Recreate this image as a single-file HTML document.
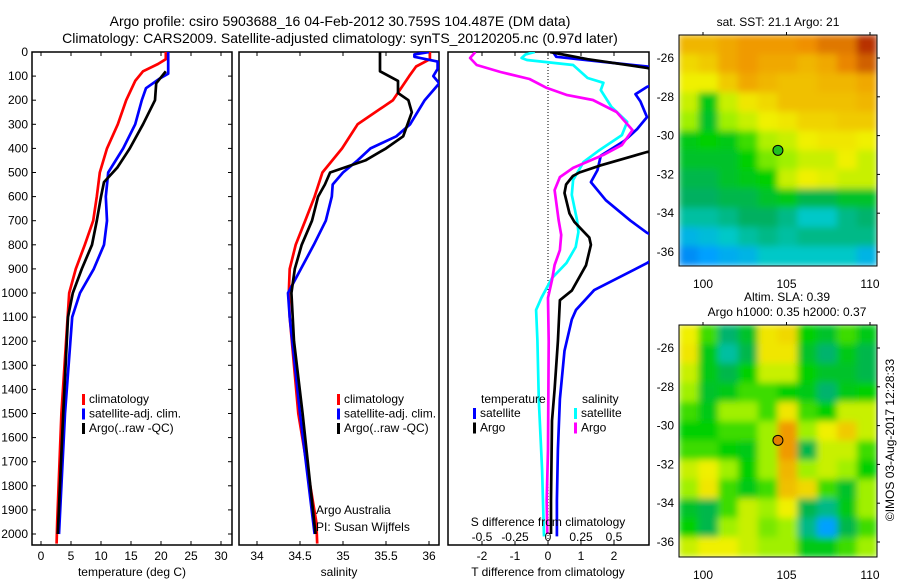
<!DOCTYPE html>
<html><head><meta charset="utf-8"><style>
body{margin:0;background:#fff}
svg{font-family:"Liberation Sans",sans-serif}
</style></head><body>
<svg id="c" width="900" height="580" viewBox="0 0 900 580" xmlns="http://www.w3.org/2000/svg">
<defs>
<filter id="bl" x="0" y="0" width="1" height="1"><feGaussianBlur stdDeviation="3.5" edgeMode="duplicate"/></filter>
<clipPath id="cp1"><rect x="32" y="52" width="200" height="493"/></clipPath>
<clipPath id="cp2"><rect x="239" y="52" width="200" height="493"/></clipPath>
<clipPath id="cp3"><rect x="448" y="52" width="201" height="493"/></clipPath>
<clipPath id="cm1"><rect x="679" y="35" width="198" height="231"/></clipPath>
<clipPath id="cm2"><rect x="679" y="325" width="198" height="232"/></clipPath>
</defs>
<text x="340" y="26" font-size="14" text-anchor="middle">Argo profile: csiro 5903688_16 04-Feb-2012 30.759S 104.487E (DM data)</text>
<text x="340" y="43" font-size="14" text-anchor="middle">Climatology: CARS2009. Satellite-adjusted climatology: synTS_20120205.nc (0.97d later)</text>
<g id="g"></g>
</svg>
<script>
// ---- data ----
const tDepthRed=[0,30,50,80,120,200,300,400,500,600,700,800,900,1000,1500,1950,2040];
const tRed=[20.8,20.8,19.5,17,15.7,14.2,12.8,11,9.8,9.3,8.7,7.3,5.8,4.7,3.4,2.7,2.6];
const tDepthBlue=[0,90,110,150,200,300,400,500,600,700,800,900,1000,1100,1500,2000];
const tBlue=[21.2,21.2,19.8,17.5,16.8,15.7,13.7,11.2,10.8,11,10.5,8.8,6.5,5.2,4,3];
const tDepthBlack=[80,130,200,300,400,480,540,600,700,800,900,1000,1100,1500,2000];
const tBlack=[20.8,19.2,19,17,14.8,12.7,10.5,10,9.3,8.5,6.8,5.3,4.5,3.7,2.8];
const sDepthRed=[0,30,60,100,200,300,400,500,600,700,800,900,1000,1100,1500,1950,2040];
const sRed=[36.01,36.01,35.85,35.77,35.58,35.17,34.99,34.76,34.67,34.56,34.45,34.38,34.37,34.38,34.48,34.69,34.7];
const sDepthBlack=[0,80,120,170,200,250,350,400,450,500,550,600,700,800,900,1000,1200,1500,2000];
const sBlack=[35.43,35.43,35.64,35.64,35.76,35.8,35.7,35.5,35.26,34.85,34.79,34.71,34.64,34.52,34.44,34.4,34.43,34.53,34.68];
const sDepthBlue=[0,10,20,40,70,100,130,200,300,350,400,450,500,550,600,700,800,900,1000,1100,1500,2000];
const sBlue=[36,35.83,35.83,36.1,36.1,36.05,36.12,35.95,35.78,35.62,35.32,35.17,35.0,34.88,34.87,34.8,34.66,34.51,34.36,34.38,34.5,34.67];
const dDepthTsat=[0,20,40,60,80,120,145,175,205,270,320,370,430,490,540,615,700,750,800,876,988,1070,1110,1240,1440,1650,1860,2010];
const dTsat=[0.15,0.25,1.6,3.0,3.8,3.5,3.0,2.65,2.8,3.0,2.7,2.3,1.6,1.5,1.3,1.75,2.5,3.0,3.8,3.0,1.4,0.85,0.72,0.5,0.36,0.3,0.27,0.27];
const dDepthTargo=[0,30,66,100,400,415,470,500,515,550,585,670,705,770,800,885,990,1030,1200,1400,1530,1860,2000];
const dTargo=[0.06,1.2,3.0,4,4,3.0,1.6,0.95,0.75,0.55,0.5,0.65,0.8,1.25,1.3,1.15,0.72,0.36,0.3,0.2,0.12,0.09,0.09];
const dDepthSsat=[0,10,25,33,54,108,128,158,228,290,345,407,456,531,593,697,747,809,875,938,1020,1070,1195,1444,1735,2010];
const dSsat=[-0.1,-0.17,-0.2,-0.16,0.19,0.3,0.42,0.4,0.48,0.6,0.56,0.39,0.27,0.19,0.18,0.22,0.23,0.21,0.14,0.03,-0.05,-0.09,-0.08,-0.07,-0.045,-0.03];
const dDepthSargo=[0,25,54,83,112,149,178,199,249,324,386,427,481,519,573,697,759,822,884,946,1020,1200,1650,1860,2000];
const dSargo=[-0.55,-0.59,-0.54,-0.36,-0.14,-0.01,0.14,0.34,0.52,0.64,0.56,0.42,0.19,0.09,0.05,0.08,0.1,0.09,0.05,0.03,0,0.005,0,-0.01,-0.005];
const depthTicks=[0,100,200,300,400,500,600,700,800,900,1000,1100,1200,1300,1400,1500,1600,1700,1800,1900,2000];
const tempTicks=[0,5,10,15,20,25,30];
const salTicks=[34,34.5,35,35.5,36];
const salTickLabels=["34","34.5","35","35.5","36"];
const dTTicks=[-2,-1,0,1,2];
const dSTicks=[-0.5,-0.25,0,0.25,0.5];
const dSTickLabels=["-0.5","-0.25","0","0.25","0.5"];
const latTicks=[-26,-28,-30,-32,-34,-36];
const lonTicks=[100,105,110];
const argoLon=104.487, argoLat=-30.759;
const sstGrid=[
[.72,.72,.75,.78,.78,.78,.8,.85,.85,.95],
[.65,.68,.75,.78,.75,.75,.72,.75,.82,.9],
[.6,.6,.68,.75,.72,.7,.7,.72,.72,.75],
[.55,.4,.55,.62,.65,.7,.7,.7,.7,.72],
[.5,.38,.5,.55,.6,.62,.66,.66,.68,.68],
[.4,.42,.4,.45,.52,.55,.6,.62,.62,.6],
[.38,.38,.38,.42,.48,.5,.55,.55,.6,.55],
[.35,.35,.38,.4,.42,.55,.6,.58,.55,.55],
[.33,.33,.35,.35,.38,.4,.35,.35,.38,.38],
[.28,.28,.3,.33,.33,.3,.25,.25,.3,.32],
[.2,.22,.25,.28,.3,.28,.3,.3,.3,.3],
[.12,.15,.18,.2,.25,.25,.25,.25,.25,.2]];
const slaGrid=[
[.6,.45,.32,.38,.62,.65,.42,.38,.45,.4],
[.62,.4,.28,.35,.62,.62,.38,.32,.4,.35],
[.55,.4,.35,.42,.55,.55,.42,.38,.38,.35],
[.5,.38,.4,.45,.45,.42,.4,.32,.4,.42],
[.45,.4,.5,.5,.45,.62,.45,.42,.55,.55],
[.42,.42,.45,.45,.5,.78,.5,.6,.68,.55],
[.45,.45,.42,.4,.5,.78,.35,.55,.55,.45],
[.55,.6,.5,.42,.5,.72,.5,.55,.5,.42],
[.5,.62,.45,.4,.45,.7,.65,.45,.38,.5],
[.38,.35,.45,.55,.5,.6,.35,.3,.4,.5],
[.42,.35,.5,.55,.48,.5,.3,.15,.35,.45],
[.55,.6,.6,.55,.5,.5,.4,.4,.45,.5]];

// ---- helpers ----
const NS="http://www.w3.org/2000/svg";
const G=document.getElementById('g');
function mk(tag,attrs,parent){const e=document.createElementNS(NS,tag);for(const k in attrs)e.setAttribute(k,attrs[k]);(parent||G).appendChild(e);return e;}
function txt(x,y,s,size,anchor,parent){const e=mk('text',{x:x,y:y,'font-size':size||12,'text-anchor':anchor||'start'},parent);e.textContent=s;return e;}
const yD=d=>52+d*0.241;
const xT=t=>41+6*t;
const xS=s=>257+86*(s-34);
const xDT=v=>548+33*v;
const xDS=v=>548+132*v;
function series(depths,vals,xf,color,clip,name){
  const pts=depths.map((d,i)=>xf(vals[i]).toFixed(1)+','+yD(d).toFixed(1)).join(' ');
  const e=mk('polyline',{points:pts,fill:'none',stroke:color,'stroke-width':2.7,'clip-path':'url(#'+clip+')','stroke-linejoin':'round'});
  
  
}
function frame(x,w,name){
  const e=mk('rect',{x:x,y:52,width:w,height:493,fill:'none',stroke:'#000','stroke-width':1.5});
  
  
}
function xticks(vals,labels,xf,x0,x1,ylab,name){
  vals.forEach((v,i)=>{const x=xf(v);
    mk('line',{x1:x,y1:52,x2:x,y2:56,stroke:'#000'});
    mk('line',{x1:x,y1:545,x2:x,y2:541,stroke:'#000'});
    const t=txt(x,560,labels[i],12,'middle');
    
    
  });
}
function legend(x,y,items,name){
  items.forEach((it,i)=>{
    const r=mk('rect',{x:x,y:y+i*14.5-9,width:3,height:11,fill:it[1]});
    
    
    const t=txt(x+7,y+i*14.5,it[0],12);
    
    
  });
}
// ---- panel frames & axes ----
frame(32,200,'temperature-panel');frame(239,200,'salinity-panel');frame(448,201,'difference-panel');
depthTicks.forEach(d=>{const y=yD(d);
  mk('line',{x1:32,y1:y,x2:36,y2:y,stroke:'#000'});
  mk('line',{x1:232,y1:y,x2:228,y2:y,stroke:'#000'});
  const t=txt(28,y+4,String(d),12,'end');
  
  
});
xticks(tempTicks,tempTicks.map(String),xT,32,232,560,'temperature-tick-label');
xticks(salTicks,salTickLabels,xS,239,439,560,'salinity-tick-label');
xticks(dTTicks,dTTicks.map(String),xDT,448,649,560,'t-diff-tick-label');
let e;
e=txt(132,576,'temperature (deg C)',12,'middle');
e=txt(339,576,'salinity',12,'middle');
e=txt(548,576,'T difference from climatology',12,'middle');
mk('line',{x1:548,y1:52,x2:548,y2:545,stroke:'#000','stroke-dasharray':'1,2'});
// ---- series ----
series(tDepthRed,tRed,xT,'#f00','cp1','temp-climatology-line');
series(tDepthBlue,tBlue,xT,'#00f','cp1','temp-satellite-line');
series(tDepthBlack,tBlack,xT,'#000','cp1','temp-argo-line');
series(sDepthRed,sRed,xS,'#f00','cp2','sal-climatology-line');
series(sDepthBlue,sBlue,xS,'#00f','cp2','sal-satellite-line');
series(sDepthBlack,sBlack,xS,'#000','cp2','sal-argo-line');
series(dDepthTsat,dTsat,xDT,'#00f','cp3','tdiff-satellite-line');
series(dDepthSsat,dSsat,xDS,'#0ff','cp3','sdiff-satellite-line');
series(dDepthSargo,dSargo,xDS,'#f0f','cp3','sdiff-argo-line');
series(dDepthTargo,dTargo,xDT,'#000','cp3','tdiff-argo-line');
// ---- legends ----
legend(82,403,[['climatology','#f00'],['satellite-adj. clim.','#00f'],['Argo(..raw -QC)','#000']],'temp-legend');
legend(337,403,[['climatology','#f00'],['satellite-adj. clim.','#00f'],['Argo(..raw -QC)','#000']],'sal-legend');
e=txt(481,403,'temperature',12);
e=txt(582,403,'salinity',12);
legend(473,417,[['satellite','#00f'],['Argo','#000']],'tdiff-legend');
legend(574,417,[['satellite','#0ff'],['Argo','#f0f']],'sdiff-legend');
e=txt(316,514,'Argo Australia',12);
e=txt(316,531,'PI: Susan Wijffels',12);
e=txt(548,526,'S difference from climatology',12,'middle');
dSTicks.forEach((v,i)=>{const t=txt(xDS(v),541,dSTickLabels[i],12,'middle');
  });
// ---- maps ----
const stops=[[0,[0,64,208]],[0.15,[0,160,255]],[0.25,[0,200,200]],[0.33,[0,176,96]],[0.42,[0,208,0]],[0.5,[160,240,0]],[0.6,[240,240,0]],[0.7,[240,192,0]],[0.8,[240,144,0]],[0.9,[208,96,0]],[1,[160,0,0]]];
function cmap(v){for(let i=1;i<stops.length;i++){if(v<=stops[i][0]){const a=stops[i-1],b=stops[i],f=(v-a[0])/(b[0]-a[0]);return 'rgb('+a[1].map((c,j)=>Math.round(c+(b[1][j]-c)*f)).join(',')+')';}}return 'rgb(160,0,0)';}
function map(grid,y0,h,clip,fill,name){
  const x0=679,w=198;
  const lonX=l=>703+16.7*(l-100);
  const latY=a=>y0+23+19.4*(-26-a);
  const outer=mk('g',{'clip-path':'url(#'+clip+')'});
  
  
  const g=mk('g',{filter:'url(#bl)'},outer);
  const cw=w/grid[0].length,ch=h/grid.length;
  grid.forEach((row,r)=>row.forEach((v,c)=>{mk('rect',{x:x0+c*cw-0.5,y:y0+r*ch-0.5,width:cw+1,height:ch+1,fill:cmap(v)},g);}));
  mk('rect',{x:x0,y:y0,width:w,height:h,fill:'none',stroke:'#000','stroke-width':1});
  latTicks.forEach(a=>{const y=latY(a);mk('line',{x1:x0+w,y1:y,x2:x0+w+3,y2:y,stroke:'#000'});
    const t=txt(x0-5,y+4,String(a),12,'end');});
  lonTicks.forEach(l=>{const x=lonX(l);mk('line',{x1:x,y1:y0,x2:x,y2:y0-3,stroke:'#000'});
    const t=txt(x,y0+h+22,String(l),12,'middle');});
  const m=mk('circle',{cx:lonX(argoLon),cy:latY(argoLat),r:5,fill:fill,stroke:'#000','stroke-width':1});
  
  
}
map(sstGrid,35,231,'cm1','#20c020','sst-map');
map(slaGrid,325,232,'cm2','#e08000','sla-map');
e=txt(778,26,'sat. SST: 21.1  Argo: 21',12,'middle');
e=txt(787,301,'Altim. SLA: 0.39',12,'middle');
e=txt(787,316,'Argo h1000: 0.35 h2000: 0.37',12,'middle');
e=txt(0,0,'©IMOS 03-Aug-2017 12:28:33',12,'middle');e.setAttribute('transform','translate(894,440) rotate(-90)');

</script>
</body></html>
